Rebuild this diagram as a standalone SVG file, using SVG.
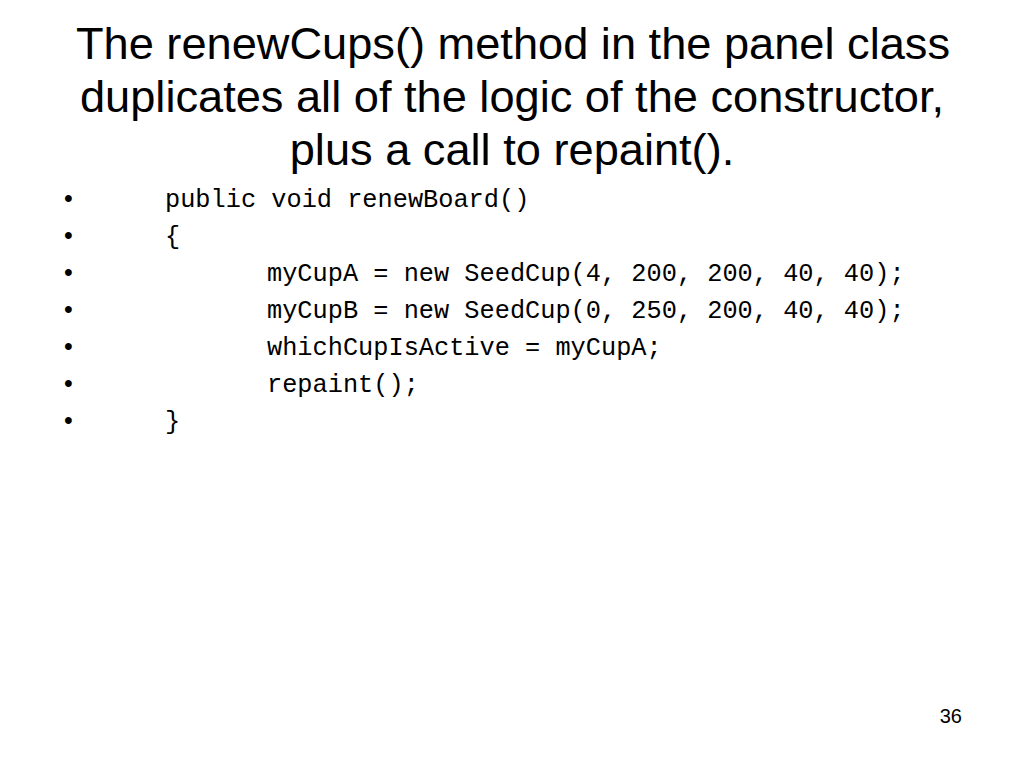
<svg xmlns="http://www.w3.org/2000/svg" width="1024" height="768" viewBox="0 0 1024 768">
<style>
.title{font-family:"Liberation Sans",Arial,sans-serif;font-size:45.2px;fill:#000;text-anchor:middle}
.code{font-family:"Liberation Mono","Courier New",monospace;font-size:25.3px;fill:#000;white-space:pre}
.bul{font-family:"Liberation Sans",Arial,sans-serif;font-size:25px;fill:#000}
.num{font-family:"Liberation Sans",Arial,sans-serif;font-size:20px;fill:#000;text-anchor:end}
</style>
<rect width="1024" height="768" fill="#fff"/>
<g id="title">
<text class="title" x="513" y="59">The renewCups() method in the panel class</text>
<text class="title" x="512" y="112">duplicates all of the logic of the constructor,</text>
<text class="title" x="512" y="165">plus a call to repaint().</text>
</g>
<g id="bullets">
<text class="bul" x="64" y="207">•</text>
<text class="bul" x="64" y="244">•</text>
<text class="bul" x="64" y="281">•</text>
<text class="bul" x="64" y="318">•</text>
<text class="bul" x="64" y="355">•</text>
<text class="bul" x="64" y="392">•</text>
<text class="bul" x="64" y="429">•</text>
</g>
<g id="code">
<text class="code" x="165" y="207">public void renewBoard()</text>
<text class="code" x="165" y="244">{</text>
<text class="code" x="267" y="281">myCupA = new SeedCup(4, 200, 200, 40, 40);</text>
<text class="code" x="267" y="318">myCupB = new SeedCup(0, 250, 200, 40, 40);</text>
<text class="code" x="267" y="355">whichCupIsActive = myCupA;</text>
<text class="code" x="267" y="392">repaint();</text>
<text class="code" x="165" y="429">}</text>
</g>
<text id="pagenum" class="num" x="962" y="723">36</text>
</svg>
